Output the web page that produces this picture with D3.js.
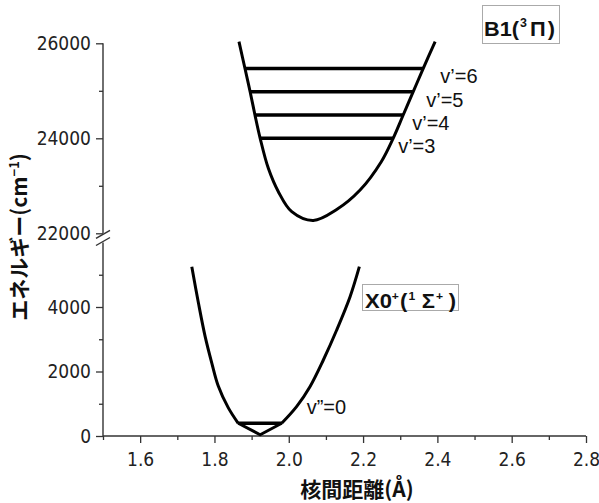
<!DOCTYPE html>
<html>
<head>
<meta charset="utf-8">
<script src="https://cdn.jsdelivr.net/npm/d3@7"></script>
<style>
  body { margin: 0; background: #fff; }
  svg { display: block; }
  .tick text { font-family: "Liberation Sans Narrow", "DejaVu Sans Condensed", sans-serif; font-size: 19px; fill: #222; }
  .tick line { stroke: #333; stroke-width: 1.3; }
</style>
</head>
<body>
<div id="chart"></div>
<script>
// axis ticks
var xTicks = [1.6, 1.8, 2.0, 2.2, 2.4, 2.6, 2.8];
var xMinorTicks = [1.5, 1.7, 1.9, 2.1, 2.3, 2.5, 2.7];
var yLowTicks = [0, 2000, 4000];
var yLowMinorTicks = [1000, 3000, 5000];
var yHighTicks = [22000, 24000, 26000];
var yHighMinorTicks = [23000, 25000];

// B1(3Pi) potential curve
var upperR = [1.866, 1.882, 1.896, 1.909, 1.923, 1.945, 1.972, 2.008, 2.066, 2.129, 2.192, 2.249, 2.281, 2.308, 2.335, 2.362, 2.394];
var upperE = [26034, 25474, 24981, 24491, 24000, 23368, 22876, 22455, 22270, 22500, 22910, 23507, 24000, 24491, 24981, 25474, 26034];

// B1 vibrational levels v'=3..6
var upperLevelNames = ["v\u2019=3", "v\u2019=4", "v\u2019=5", "v\u2019=6"];
var upperLevelE = [24000, 24490, 24980, 25470];
var upperLevelR0 = [1.923, 1.909, 1.896, 1.882];
var upperLevelR1 = [2.281, 2.308, 2.335, 2.362];

// X0+(1Sigma+) potential curve: left branch, bottom, right branch
var lowerLeftR = [1.739, 1.757, 1.775, 1.793, 1.810, 1.837, 1.864];
var lowerLeftE = [5250, 4115, 3080, 2254, 1560, 880, 394];
var lowerBottomR = [1.864, 1.923, 1.981];
var lowerBottomE = [394, 40, 394];
var lowerRightR = [1.981, 2.021, 2.057, 2.093, 2.129, 2.165, 2.190];
var lowerRightE = [394, 909, 1529, 2357, 3287, 4319, 5250];

// X0 level v''=0
var lowerLevelName = "v\u201d=0";
var lowerLevelE = 394;
var lowerLevelR0 = 1.864;
var lowerLevelR1 = 1.981;

var width = 599, height = 503;

var svg = d3.select("#chart").append("svg")
    .attr("width", width)
    .attr("height", height);

var x = d3.scaleLinear().domain([1.5, 2.8]).range([103, 586]);
var yLow = d3.scaleLinear().domain([0, 6000]).range([436, 242.5]);
var yHigh = d3.scaleLinear().domain([22000, 26000]).range([233.3, 43.3]);

function zip(a, b) { return a.map(function (v, i) { return [v, b[i]]; }); }

// axes
function drawAxis(g, axis) {
    g.call(axis);
    g.select(".domain").remove();
}

var gx = svg.append("g").attr("transform", "translate(0,436)");
drawAxis(gx, d3.axisBottom(x).tickValues(xTicks).tickSize(7).tickPadding(10)
    .tickFormat(d3.format(".1f")));
var gxm = svg.append("g").attr("transform", "translate(0,436)");
drawAxis(gxm, d3.axisBottom(x).tickValues(xMinorTicks).tickSize(4).tickFormat(""));

var gyl = svg.append("g").attr("transform", "translate(103,0)");
drawAxis(gyl, d3.axisLeft(yLow).tickValues(yLowTicks).tickSize(7).tickPadding(5)
    .tickFormat(d3.format("d")));
var gylm = svg.append("g").attr("transform", "translate(103,0)");
drawAxis(gylm, d3.axisLeft(yLow).tickValues(yLowMinorTicks).tickSize(4).tickFormat(""));

var gyh = svg.append("g").attr("transform", "translate(103,0)");
drawAxis(gyh, d3.axisLeft(yHigh).tickValues(yHighTicks).tickSize(7).tickPadding(5)
    .tickFormat(d3.format("d")));
var gyhm = svg.append("g").attr("transform", "translate(103,0)");
drawAxis(gyhm, d3.axisLeft(yHigh).tickValues(yHighMinorTicks).tickSize(4).tickFormat(""));

var axisStroke = "#333";
// axis lines
svg.append("line").attr("x1", x.range()[0]).attr("x2", x.range()[1])
    .attr("y1", yLow(0)).attr("y2", yLow(0))
    .attr("stroke", axisStroke).attr("stroke-width", 1.4);
svg.append("line").attr("x1", 103).attr("x2", 103)
    .attr("y1", yLow(0)).attr("y2", yLow.range()[1])
    .attr("stroke", axisStroke).attr("stroke-width", 1.4);
svg.append("line").attr("x1", 103).attr("x2", 103)
    .attr("y1", yHigh.range()[0]).attr("y2", yHigh.range()[1])
    .attr("stroke", axisStroke).attr("stroke-width", 1.4);

// break marks
[yHigh.range()[0] + 1, yLow.range()[1] - 1].forEach(function (yy) {
    svg.append("line")
        .attr("x1", 96).attr("x2", 110)
        .attr("y1", yy + 4).attr("y2", yy - 4)
        .attr("stroke", axisStroke).attr("stroke-width", 1.4);
});

// curves
var lineHigh = d3.line()
    .x(function (d) { return x(d[0]); })
    .y(function (d) { return yHigh(d[1]); })
    .curve(d3.curveCatmullRom.alpha(0.5));
var lineLowSmooth = d3.line()
    .x(function (d) { return x(d[0]); })
    .y(function (d) { return yLow(d[1]); })
    .curve(d3.curveCatmullRom.alpha(0.5));
var lineLowStraight = d3.line()
    .x(function (d) { return x(d[0]); })
    .y(function (d) { return yLow(d[1]); });

function curvePath(d, gen) {
    svg.append("path")
        .attr("d", gen(d))
        .attr("fill", "none")
        .attr("stroke", "#000")
        .attr("stroke-width", 3)
        .attr("stroke-linejoin", "round");
}
curvePath(zip(upperR, upperE), lineHigh);
curvePath(zip(lowerLeftR, lowerLeftE), lineLowSmooth);
curvePath(zip(lowerBottomR, lowerBottomE), lineLowStraight);
curvePath(zip(lowerRightR, lowerRightE), lineLowSmooth);

// levels
var labelFont = "'Liberation Sans', Arial, sans-serif";
upperLevelE.forEach(function (e, i) {
    svg.append("line")
        .attr("x1", x(upperLevelR0[i])).attr("x2", x(upperLevelR1[i]))
        .attr("y1", yHigh(e)).attr("y2", yHigh(e))
        .attr("stroke", "#000").attr("stroke-width", 3.6);
    svg.append("text")
        .attr("x", x(upperLevelR1[i]) + 5 + i * 4)
        .attr("y", yHigh(e) + 15)
        .attr("font-family", labelFont)
        .attr("font-size", "20px")
        .attr("fill", "#111")
        .text(upperLevelNames[i]);
});

svg.append("line")
    .attr("x1", x(lowerLevelR0)).attr("x2", x(lowerLevelR1))
    .attr("y1", yLow(lowerLevelE)).attr("y2", yLow(lowerLevelE))
    .attr("stroke", "#000").attr("stroke-width", 3.6);
svg.append("text")
    .attr("x", x(lowerLevelR1) + 25)
    .attr("y", yLow(lowerLevelE) - 9)
    .attr("font-family", labelFont)
    .attr("font-size", "20px")
    .attr("fill", "#111")
    .text(lowerLevelName);

// state labels with boxes
function stateBox(bx, by, bw, bh) {
    svg.append("rect")
        .attr("x", bx).attr("y", by).attr("width", bw).attr("height", bh)
        .attr("fill", "#fff").attr("stroke", "#aaa").attr("stroke-width", 1);
}
// parts: [text, dx, isSuperscript]
function stateText(tx, baseY, size, fitWidth, parts) {
    var t = svg.append("text")
        .attr("x", tx).attr("y", baseY)
        .attr("font-family", labelFont)
        .attr("font-weight", "bold")
        .attr("font-size", size + "px")
        .attr("fill", "#111")
        .attr("textLength", fitWidth)
        .attr("lengthAdjust", "spacingAndGlyphs");
    var raised = false;
    parts.forEach(function (p) {
        var sup = !!p[2];
        var dy = 0;
        if (sup && !raised) dy = -size * 0.42;
        if (!sup && raised) dy = size * 0.42;
        raised = sup;
        t.append("tspan")
            .attr("dx", p[1])
            .attr("dy", dy)
            .attr("font-size", sup ? Math.round(size * 0.55) + "px" : null)
            .text(p[0]);
    });
}
stateBox(482.5, 5.5, 77, 38);
stateText(484, 36, 21, 71, [["B1(", 0], ["3", 1, true], ["\u03a0", 3], [")", 2]]);

stateBox(362.5, 284.5, 96, 26);
stateText(365, 308, 20, 91, [["X0", 0], ["+", 0, true], ["(", 1], ["1", 1, true],
    ["\u03a3", 6], ["+", 1, true], [")", 5]]);

// axis titles
var titleFont = "'Noto Sans CJK JP', 'Noto Sans', sans-serif";
svg.append("text")
    .attr("x", 357).attr("y", 497)
    .attr("text-anchor", "middle")
    .attr("font-family", titleFont)
    .attr("font-weight", "bold")
    .attr("font-size", "21px")
    .attr("fill", "#111")
    .text("核間距離(Å)");

var yt = svg.append("text")
    .attr("transform", "translate(27,237) rotate(-90)")
    .attr("text-anchor", "middle")
    .attr("font-family", titleFont)
    .attr("font-weight", "bold")
    .attr("font-size", "21px")
    .attr("fill", "#111");
yt.append("tspan").text("エネルギー(cm");
yt.append("tspan").attr("font-size", "13px").attr("dy", -8).text("−1");
yt.append("tspan").attr("dy", 8).text(")");
</script>
</body>
</html>
